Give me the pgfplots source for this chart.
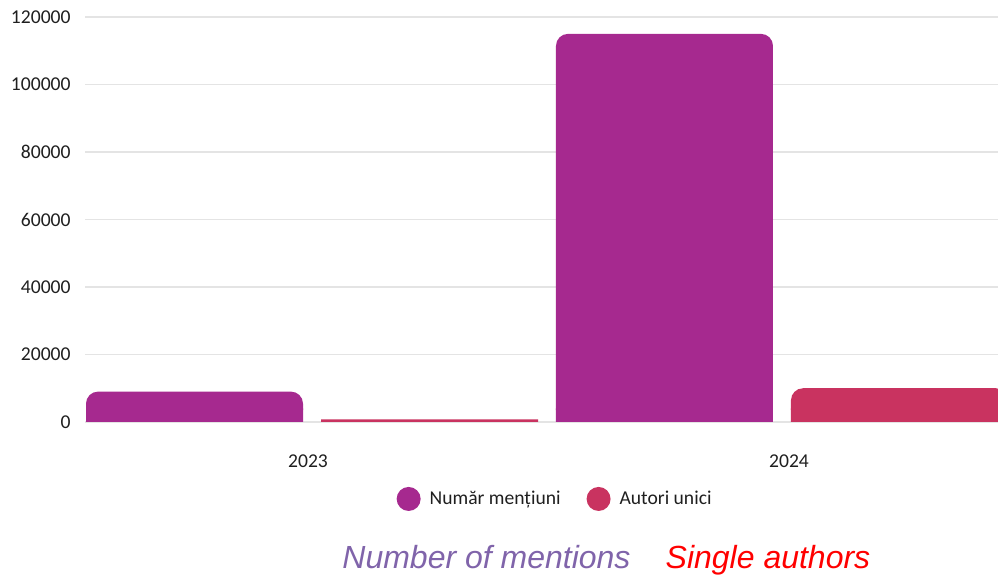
\documentclass[border=0pt]{standalone}
\usepackage{fontspec}
\setmainfont{Carlito}
\newfontfamily\arialfont{Liberation Sans}
\usepackage{pgfplots}
\pgfplotsset{compat=1.18}
\definecolor{cMent}{RGB}{166,41,143}
\definecolor{cAut}{RGB}{201,51,96}
\definecolor{cNote}{RGB}{128,100,170}
\definecolor{cGrid}{RGB}{228,228,228}
\begin{document}
\begin{tikzpicture}
\useasboundingbox (0,0) rectangle (499pt,289.5pt);
\begin{axis}[
    at={(42.5pt,78.5pt)}, anchor=south west,
    scale only axis, width=456.5pt, height=202.5pt,
    xmin=-0.483, xmax=1.4596,
    ymin=0, ymax=120000,
    ytick={0,20000,40000,60000,80000,100000,120000},
    xtick={-0.0085,1.0149},
    xticklabels={2023,2024},
    scaled y ticks=false,
    ymajorgrids=true,
    grid style={cGrid, line width=0.6pt},
    axis line style={draw=none},
    major tick length=0pt,
    yticklabel style={/pgf/number format/fixed, /pgf/number format/precision=0,
        /pgf/number format/1000 sep={}, /pgf/number format/assume math mode=true},
    tick label style={font=\fontsize{9.8pt}{11pt}\selectfont, text=black!88},
    yticklabel style={anchor=east, inner sep=0pt, xshift=-7pt},
    xticklabel style={anchor=center, inner sep=0pt, yshift=-19.5pt},
    legend columns=2,
    legend style={at={(0.516,-0.19)}, anchor=center, draw=none, fill=none,
        font=\fontsize{9.8pt}{11pt}\selectfont, text=black!88,
        /tikz/every even column/.append style={column sep=11pt}},
]
% Numar mentiuni: rounded bars for tall values, square foot below
\addplot[ybar, bar width=108.5pt, bar shift=-58.75pt, fill=cMent, draw=none,
    rounded corners=6pt, y filter/.expression={y<4000 ? nan : y},
    legend image code/.code={\fill[cMent] (6pt,0pt) circle (6pt); \path (14.5pt,0pt);}]
    coordinates {(0,9000) (1,115000)};
\addlegendentry{Număr mențiuni}
\addplot[ybar, bar width=108.5pt, bar shift=-58.75pt, fill=cMent, draw=none,
    forget plot, y filter/.expression={min(y,4000)}]
    coordinates {(0,9000) (1,115000)};
% Autori unici
\addplot[ybar, bar width=108.5pt, bar shift=58.75pt, fill=cAut, draw=none,
    rounded corners=6pt, y filter/.expression={y<4000 ? nan : y},
    legend image code/.code={\fill[cAut] (6pt,0pt) circle (6pt); \path (14.5pt,0pt);}]
    coordinates {(0,800) (1,10000)};
\addlegendentry{Autori unici}
\addplot[ybar, bar width=108.5pt, bar shift=58.75pt, fill=cAut, draw=none,
    forget plot, y filter/.expression={min(y,4000)}]
    coordinates {(0,800) (1,10000)};
\end{axis}
\node[anchor=base, inner sep=0pt, text=cNote, font=\arialfont\itshape\fontsize{16pt}{18pt}\selectfont]
    at (243.25pt,5pt) {Number of mentions};
\node[anchor=base, inner sep=0pt, text=red, font=\arialfont\itshape\fontsize{16pt}{18pt}\selectfont]
    at (384pt,5pt) {Single authors};
\end{tikzpicture}
\end{document}
